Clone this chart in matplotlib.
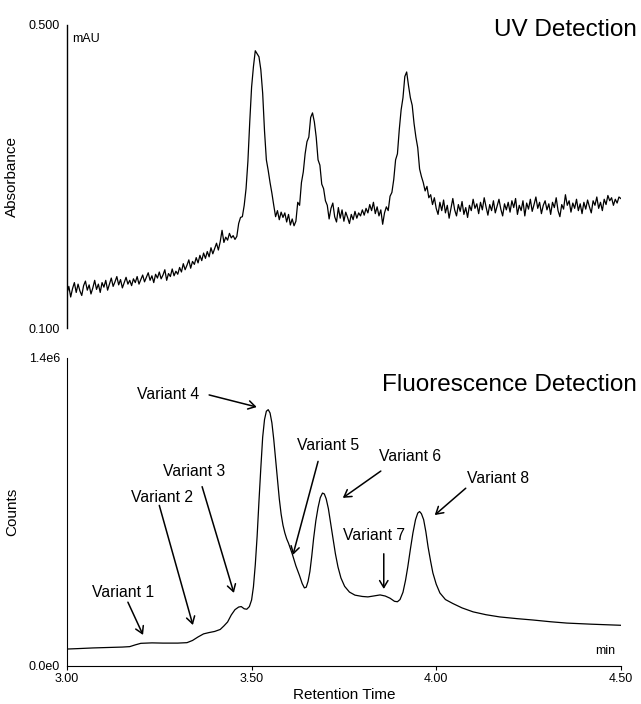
import numpy as np
import matplotlib
matplotlib.use("Agg")
import matplotlib.pyplot as plt

plt.rcParams['font.family'] = ['Liberation Sans', 'DejaVu Sans']

# UV trace, sampled every 0.005 min from 3.00 to 4.50 (absorbance, mAU axis)
uv_abs = [
    # 3.00 - 3.095
    0.146, 0.155, 0.141, 0.152, 0.160, 0.147, 0.158, 0.149, 0.143, 0.156,
    0.162, 0.150, 0.157, 0.145, 0.153, 0.163, 0.151, 0.158, 0.147, 0.160,
    # 3.10
    0.154, 0.163, 0.150, 0.158, 0.166, 0.155, 0.161, 0.168, 0.157, 0.164,
    0.153, 0.160, 0.167, 0.158, 0.163, 0.156, 0.165, 0.160, 0.168, 0.158,
    # 3.20
    0.164, 0.170, 0.161, 0.167, 0.173, 0.163, 0.169, 0.160, 0.171, 0.166,
    0.174, 0.165, 0.170, 0.177, 0.163, 0.172, 0.168, 0.178, 0.169, 0.175,
    # 3.30
    0.171, 0.180, 0.174, 0.185, 0.177, 0.183, 0.190, 0.179, 0.188, 0.184,
    0.193, 0.186, 0.196, 0.189, 0.199, 0.192, 0.201, 0.194, 0.206, 0.198,
    # 3.40
    0.205, 0.212, 0.203, 0.214, 0.229, 0.213, 0.220, 0.216, 0.225, 0.219,
    0.222, 0.217, 0.221, 0.238, 0.246, 0.247, 0.262, 0.284, 0.320, 0.372,
    # 3.50
    0.418, 0.445, 0.466, 0.462, 0.458, 0.441, 0.410, 0.360, 0.322, 0.308,
    0.292, 0.278, 0.262, 0.247, 0.255, 0.243, 0.253, 0.246, 0.252, 0.240,
    # 3.60
    0.250, 0.236, 0.244, 0.235, 0.241, 0.266, 0.262, 0.292, 0.306, 0.330,
    0.346, 0.352, 0.378, 0.384, 0.372, 0.352, 0.322, 0.315, 0.290, 0.284,
    # 3.70
    0.268, 0.262, 0.244, 0.258, 0.265, 0.247, 0.240, 0.259, 0.245, 0.256,
    0.241, 0.253, 0.246, 0.238, 0.250, 0.243, 0.254, 0.245, 0.252, 0.248,
    # 3.80
    0.256, 0.249, 0.258, 0.252, 0.263, 0.255, 0.266, 0.251, 0.260, 0.248,
    0.256, 0.237, 0.252, 0.260, 0.255, 0.274, 0.279, 0.296, 0.322, 0.330,
    # 3.90
    0.362, 0.388, 0.404, 0.432, 0.438, 0.420, 0.404, 0.394, 0.370, 0.352,
    0.338, 0.310, 0.300, 0.292, 0.281, 0.287, 0.272, 0.276, 0.263, 0.272,
    # 4.00
    0.258, 0.250, 0.266, 0.255, 0.269, 0.252, 0.262, 0.245, 0.258, 0.271,
    0.256, 0.248, 0.263, 0.254, 0.267, 0.250, 0.259, 0.246, 0.262, 0.255,
    # 4.10
    0.270, 0.258, 0.264, 0.251, 0.266, 0.256, 0.272, 0.260, 0.249, 0.263,
    0.255, 0.268, 0.252, 0.261, 0.270, 0.257, 0.248, 0.264, 0.256, 0.266,
    # 4.20
    0.253, 0.268, 0.259, 0.271, 0.250, 0.262, 0.255, 0.268, 0.248, 0.265,
    0.257, 0.270, 0.254, 0.263, 0.273, 0.258, 0.266, 0.251, 0.262, 0.268,
    # 4.30
    0.256, 0.264, 0.250, 0.266, 0.259, 0.272, 0.255, 0.247, 0.263, 0.257,
    0.276, 0.262, 0.268, 0.253, 0.265, 0.258, 0.270, 0.255, 0.264, 0.251,
    # 4.40 - 4.50
    0.266, 0.257, 0.269, 0.260, 0.252, 0.268, 0.262, 0.273, 0.258, 0.266,
    0.255, 0.270, 0.263, 0.275, 0.268, 0.272, 0.262, 0.270, 0.265, 0.273,
    0.271,
]
uv_time = np.linspace(3.0, 4.5, len(uv_abs))

# fluorescence trace (counts in millions)
fld_time = [
    3.000, 3.030, 3.070, 3.110, 3.150, 3.170, 3.185, 3.200, 3.230, 3.260,
    3.300, 3.325, 3.340, 3.355, 3.370, 3.385, 3.400, 3.415, 3.425, 3.435,
    3.445, 3.455, 3.465, 3.472, 3.480, 3.487, 3.494, 3.500, 3.505, 3.510,
    3.515, 3.520, 3.525, 3.530, 3.535, 3.540, 3.545, 3.550, 3.555, 3.560,
    3.565, 3.570, 3.575, 3.580, 3.585, 3.590, 3.595, 3.600, 3.610, 3.620,
    3.630, 3.637, 3.643, 3.648, 3.653, 3.658, 3.663, 3.668, 3.674, 3.680,
    3.686, 3.692, 3.697, 3.702, 3.708, 3.714, 3.720, 3.727, 3.734, 3.742,
    3.752, 3.765, 3.780, 3.800, 3.815, 3.830, 3.848, 3.862, 3.875, 3.887,
    3.895, 3.902, 3.910, 3.917, 3.923, 3.930, 3.937, 3.944, 3.950, 3.955,
    3.960, 3.966, 3.972, 3.978, 3.985, 3.991, 4.000, 4.010, 4.025, 4.045,
    4.070, 4.100, 4.135, 4.172, 4.220, 4.262, 4.310, 4.354, 4.420, 4.500,
]
fld_counts_m = [
    0.077, 0.079, 0.082, 0.084, 0.086, 0.088, 0.096, 0.103, 0.105, 0.104,
    0.104, 0.106, 0.116, 0.132, 0.146, 0.152, 0.157, 0.166, 0.182, 0.200,
    0.232, 0.256, 0.268, 0.270, 0.260, 0.258, 0.270, 0.300, 0.360, 0.460,
    0.590, 0.750, 0.900, 1.040, 1.120, 1.158, 1.165, 1.150, 1.105, 1.030,
    0.940, 0.850, 0.760, 0.690, 0.640, 0.605, 0.578, 0.558, 0.510, 0.455,
    0.410, 0.375, 0.355, 0.358, 0.385, 0.430, 0.500, 0.580, 0.660, 0.720,
    0.765, 0.786, 0.782, 0.760, 0.715, 0.650, 0.585, 0.510, 0.450, 0.400,
    0.362, 0.336, 0.322, 0.316, 0.314, 0.318, 0.323, 0.318, 0.308, 0.294,
    0.292, 0.302, 0.335, 0.390, 0.450, 0.530, 0.605, 0.665, 0.695, 0.702,
    0.692, 0.665, 0.610, 0.541, 0.475, 0.423, 0.372, 0.332, 0.302, 0.284,
    0.264, 0.246, 0.233, 0.223, 0.215, 0.209, 0.201, 0.195, 0.190, 0.185,
]

# peak labels: arrow tip, arrow tail and text centre (time, counts in millions)
variant_labels = ["Variant 1", "Variant 2", "Variant 3", "Variant 4",
                  "Variant 5", "Variant 6", "Variant 7", "Variant 8"]
tip_time = [3.206, 3.341, 3.452, 3.514, 3.612, 3.747, 3.858, 3.996]
tip_counts_m = [0.141, 0.186, 0.332, 1.177, 0.505, 0.764, 0.350, 0.686]
tail_time = [3.165, 3.250, 3.366, 3.385, 3.680, 3.850, 3.858, 4.080]
tail_counts_m = [0.290, 0.730, 0.815, 1.232, 0.930, 0.886, 0.510, 0.808]
text_time = [3.152, 3.257, 3.344, 3.273, 3.707, 3.929, 3.831, 4.167]
text_counts_m = [0.336, 0.768, 0.882, 1.232, 1.004, 0.950, 0.595, 0.854]

fig = plt.figure(figsize=(6.41, 7.04), dpi=100)
ax_uv = fig.add_axes([0.1045, 0.534, 0.864, 0.4305])
ax_fl = fig.add_axes([0.1045, 0.054, 0.864, 0.4375])

# UV panel
ax_uv.plot(uv_time, uv_abs, color="black", lw=0.9)
ax_uv.set_xlim(3.0, 4.5)
ax_uv.set_ylim(0.1, 0.5)
for s in ["top", "right", "bottom"]:
    ax_uv.spines[s].set_visible(False)
ax_uv.spines["left"].set_linewidth(1.0)
ax_uv.set_xticks([])
ax_uv.set_yticks([0.1, 0.5])
ax_uv.set_yticklabels(["0.100", "0.500"])
ax_uv.tick_params(axis="y", labelsize=9, length=0, pad=5)
ax_uv.set_ylabel("Absorbance", fontsize=11, labelpad=7)
ax_uv.text(0.01, 0.975, "mAU", transform=ax_uv.transAxes, fontsize=9,
           ha="left", va="top")
fig.text(0.994, 0.957, "UV Detection", fontsize=17.5, ha="right", va="center")

# fluorescence panel
ax_fl.plot(fld_time, np.array(fld_counts_m) * 1e6, color="black", lw=0.9)
ax_fl.set_xlim(3.0, 4.5)
ax_fl.set_ylim(0, 1.4e6)
for s in ["top", "right"]:
    ax_fl.spines[s].set_visible(False)
ax_fl.set_xticks([3.0, 3.5, 4.0, 4.5])
ax_fl.set_xticklabels(["3.00", "3.50", "4.00", "4.50"])
ax_fl.set_yticks([0, 1.4e6])
ax_fl.set_yticklabels(["0.0e0", "1.4e6"])
ax_fl.tick_params(axis="both", labelsize=9, length=3, pad=2)
ax_fl.tick_params(axis="y", length=0, pad=5)
ax_fl.set_xlabel("Retention Time", fontsize=11, labelpad=2)
ax_fl.set_ylabel("Counts", fontsize=11, labelpad=7)
ax_fl.text(0.99, 0.03, "min", transform=ax_fl.transAxes, fontsize=9,
           ha="right", va="bottom")
fig.text(0.994, 0.453, "Fluorescence Detection", fontsize=17.5,
         ha="right", va="center")

for lab, tx, ty, sx, sy, lx, ly in zip(variant_labels, tip_time, tip_counts_m,
                                       tail_time, tail_counts_m,
                                       text_time, text_counts_m):
    ax_fl.annotate("", xy=(tx, ty * 1e6), xytext=(sx, sy * 1e6),
                   arrowprops=dict(arrowstyle="->,head_length=0.5,head_width=0.3",
                                   lw=1.1, color="black",
                                   shrinkA=0, shrinkB=0))
    ax_fl.text(lx, ly * 1e6, lab, fontsize=11.3, ha="center", va="center")

fig.savefig("out.png", dpi=100)
